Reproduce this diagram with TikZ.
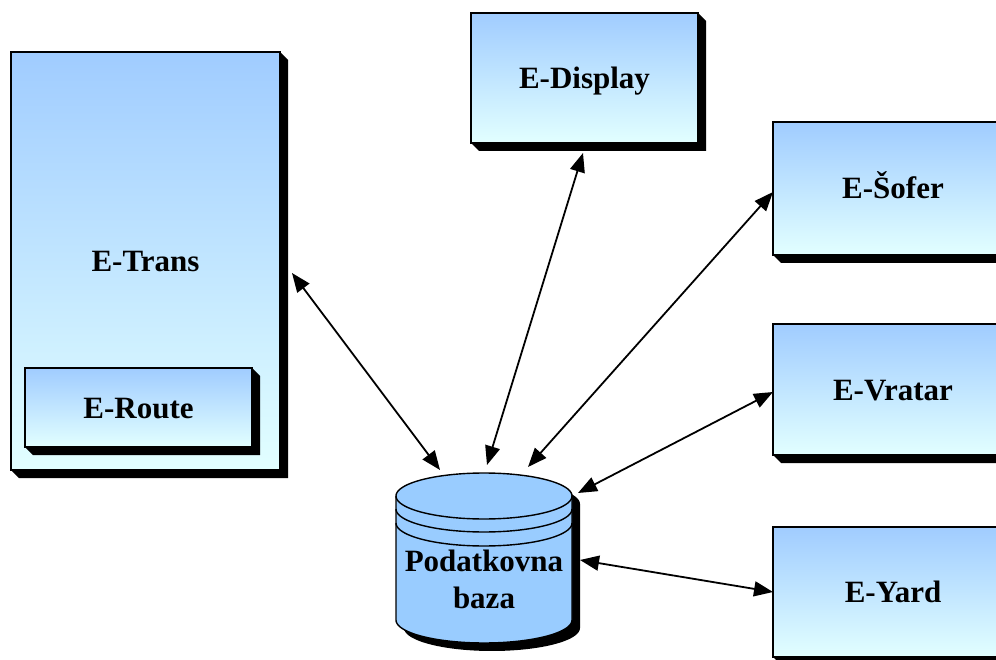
\documentclass[tikz,border=0pt]{standalone}
\usepackage{fontspec}
\setmainfont{Liberation Serif}
\usetikzlibrary{arrows.meta}

\definecolor{boxtop}{RGB}{160,204,255}
\definecolor{boxbot}{RGB}{226,255,255}
\definecolor{dbfill}{RGB}{153,204,255}

\tikzset{
  module/.style={draw=black, line width=1.3pt, top color=boxtop, bottom color=boxbot,
    anchor=north west, inner sep=0pt, outer sep=0pt, text=black,
    text height=21pt, text depth=0pt,
    font=\bfseries\fontsize{31}{36}\selectfont},
  label text/.style={inner sep=0pt, outer sep=0pt, align=center, text=black,
    font=\bfseries\fontsize{31}{37}\selectfont},
  link/.style={line width=1.8pt,
    {Triangle[length=19pt,width=15pt]}-{Triangle[length=19pt,width=15pt]}},
}

% extruded black shadow, then the shaded box on top
% #1 name, #2 x, #3 y (top-left), #4 width, #5 height, #6 text
\newcommand\modulebox[6]{%
  \fill[black] (#2+#4,#3) -- ++(8,8) -- ++(0,#5) -- ++(-#4,0) -- ++(-8,-8) -- cycle;
  \node[module, minimum width=#4pt, minimum height=#5pt] (#1) at (#2,#3) {#6};}

\begin{document}
\begin{tikzpicture}[x=1pt,y=-1pt]
\path[use as bounding box, clip] (0,0) rectangle (996,660);
\fill[white] (0,0) rectangle (996,660);

% application modules
\modulebox{trans}{11}{52}{269}{418}{E-Trans}
\modulebox{route}{25}{368}{227}{79}{E-Route}
\modulebox{display}{471}{13}{227}{130}{E-Display}
\modulebox{sofer}{773}{122}{240}{133}{E-Šofer}
\modulebox{vratar}{773}{324}{240}{131}{E-Vratar}
\modulebox{yard}{773}{527}{240}{130}{E-Yard}

% database cylinder: shadow, body, top rim and rings
\begin{scope}[shift={(8,8)}]
  \fill[black] plot[domain=180:360,samples=50] ({484+88*cos(\x)},{620-23*sin(\x)})
    -- plot[domain=0:180,samples=50] ({484+88*cos(\x)},{496-23*sin(\x)}) -- cycle;
\end{scope}
\filldraw[fill=dbfill, draw=black, line width=1.4pt]
  plot[domain=180:360,samples=50] ({484+88*cos(\x)},{620-23*sin(\x)})
  -- plot[domain=0:180,samples=50] ({484+88*cos(\x)},{496-23*sin(\x)}) -- cycle;
\foreach \dy in {0,13,27}{
  \draw[line width=1.4pt] plot[domain=180:360,samples=50] ({484+88*cos(\x)},{496+\dy-23*sin(\x)});
}
\node[inner sep=0pt, outer sep=0pt, minimum width=176pt, minimum height=170pt] (db) at (484,558) {};
\node[label text] (dbtext) at (484,579) {Podatkovna\\baza};

% connections to the database
\draw[link] ([shift={(12,12)}]trans.east) -- ([shift={(-44,-3)}]db.north);
\draw[link] ([shift={(-1.5,10)}]display.south) -- ([shift={(3,-8)}]db.north);
\draw[link] ([shift={(0,3.5)}]sofer.west) -- ([shift={(44,-6)}]db.north);
\draw[link] ([shift={(0,2.5)}]vratar.west) -- ([shift={(6,20)}]db.north east);
\draw[link] (yard.west) -- ([shift={(8,2)}]db.east);
\end{tikzpicture}
\end{document}
